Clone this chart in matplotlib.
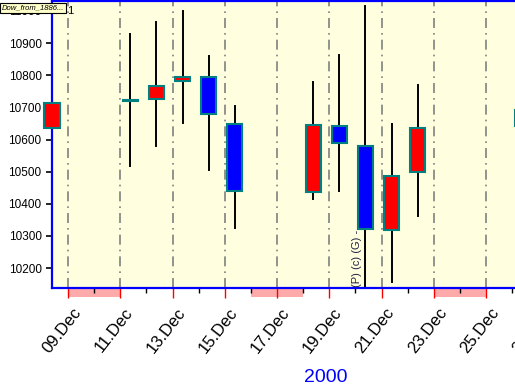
import matplotlib
matplotlib.use('Agg')
import matplotlib.pyplot as plt
import matplotlib.transforms as mtransforms
from matplotlib.patches import Rectangle

plt.rcParams['font.family'] = ['Liberation Sans', 'DejaVu Sans']

# daily OHLC, Dow Jones, December 2000 (day of month)
days = [8, 11, 12, 13, 14, 15, 18, 19, 20, 21, 22, 26]
opens = [10636, 10719, 10726, 10782, 10794, 10648, 10436, 10642, 10580, 10318, 10499, 10642]
highs = [10894, 10928, 10965, 11000, 10860, 10704, 10779, 10863, 11015, 10648, 10769, 10740]
lows = [10536, 10517, 10580, 10651, 10505, 10324, 10415, 10440, 10138, 10156, 10362, 10600]
closes = [10713, 10724, 10766, 10794, 10679, 10440, 10645, 10589, 10321, 10486, 10636, 10692]

# weekends shown as pink bars under the axis
weekend_starts = [9, 16, 23]
major_days = [9, 11, 13, 15, 17, 19, 21, 23, 25, 27]
minor_days = [10, 12, 14, 16, 18, 20, 22, 24, 26]
yticks = [10200, 10300, 10400, 10500, 10600, 10700, 10800, 10900, 11000]

offset = 0.385   # candles sit at the session time, not midnight
width = 0.58

fig = plt.figure(figsize=(5.15, 3.9), dpi=100)
ax = fig.add_axes([52 / 515, 102 / 390, 0.9695, 287 / 390])
ax.set_facecolor('#ffffe0')

ax.set_xlim(8 + offset, 27.5)
ax.set_ylim(10138, 11031)

# grid lines at labelled days
for d in major_days:
    ax.axvline(d, color='#808080', lw=1.2, dashes=(6, 3, 1, 3), zorder=1)

# candles
for d, o, h, l, c in zip(days, opens, highs, lows, closes):
    x = d + offset
    ax.plot([x, x], [l, h], color='black', lw=1.4, zorder=2, clip_on=False)
    col = 'red' if c >= o else 'blue'
    lo = min(o, c)
    hgt = max(abs(c - o), 3)
    ax.add_patch(Rectangle((x - width / 2, lo), width, hgt, facecolor=col,
                           edgecolor='#008080', lw=1.5, zorder=3, clip_on=False))

# weekend bars below axis
trans = mtransforms.blended_transform_factory(ax.transData, ax.transAxes)
for s in weekend_starts:
    ax.add_patch(Rectangle((s, -0.03), 2, 0.03, transform=trans, facecolor='#ffaaaa',
                           edgecolor='none', clip_on=False, zorder=0))

ax.set_xticks(major_days)
ax.set_xticklabels(['%02d.Dec' % d for d in major_days], fontsize=12,
                   rotation=52, ha='right', rotation_mode='anchor')
ax.set_xticks(minor_days, minor=True)
ax.tick_params(axis='x', which='major', direction='out', length=7.5, width=1, color='red', pad=5)
ax.tick_params(axis='x', which='minor', direction='out', length=3.5, width=1, color='black')
shift = mtransforms.ScaledTranslation(4 / 100, 0, fig.dpi_scale_trans)
for lab in ax.get_xticklabels():
    lab.set_transform(lab.get_transform() + shift)

ax.set_yticks(yticks)
ax.set_yticklabels([str(v) for v in yticks], fontsize=8.5)
ax.tick_params(axis='y', direction='out', length=4, width=1.2, color='black')

for side in ['left', 'top', 'bottom']:
    ax.spines[side].set_color('blue')
    ax.spines[side].set_linewidth(1.6)
ax.spines['right'].set_visible(False)

fig.text(326 / 515, 1 - 377 / 390, '2000', color='blue', fontsize=14, ha='center', va='center')

# little annotation along the 20 Dec wick
ax.text(20 + 0.07, 10140, '(P) (c) (G) -', rotation=90, fontsize=8, color='#202040',
        ha='center', va='bottom', zorder=4)

# series tag in top-left corner
fig.text(0.003, 0.988, 'Dow_from_1886...', fontsize=5.5, style='italic', ha='left', va='top',
         bbox=dict(facecolor='#ffffcc', edgecolor='black', lw=0.8, pad=1.2))
fig.text(67 / 515, 0.985, '1', fontsize=8, ha='left', va='top')

fig.savefig('out.png', dpi=100)
